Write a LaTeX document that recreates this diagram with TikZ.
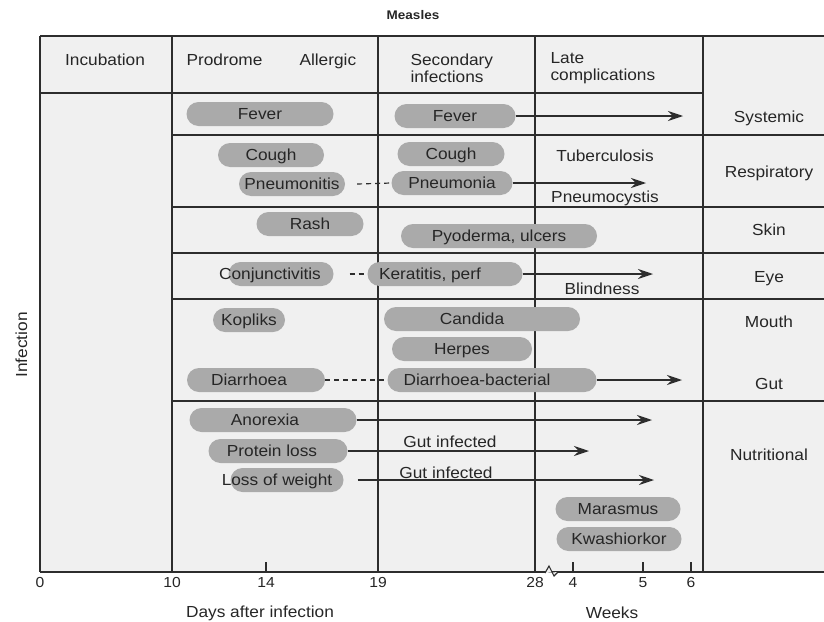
\documentclass[tikz,border=0pt]{standalone}
\usepackage{fontspec}
\setmainfont{Liberation Sans}[FakeStretch=1.08]
\usetikzlibrary{arrows.meta}
\definecolor{bggray}{RGB}{240,240,240}
\definecolor{pillgray}{RGB}{170,170,170}
\definecolor{linegray}{RGB}{45,45,45}

\begin{document}
\begin{tikzpicture}[x=1pt, y=-1pt, font=\fontsize{16}{18}\selectfont, text=black!85]
\tikzstyle{lbl}=[text height=11.2pt, text depth=1pt];
\tikzstyle{pill}=[lbl, fill=pillgray, rounded corners=12pt, minimum height=24pt, inner sep=0pt];
\tikzstyle{grid}=[draw=linegray, line width=1.4pt];
\tikzstyle{arr}=[draw=linegray, line width=1.3pt, -{Stealth[length=15pt,width=10pt,inset=5pt]}];
\tikzstyle{dsh}=[draw=linegray, line width=1.2pt, dash pattern=on 5pt off 4pt];
\useasboundingbox (0,0) rectangle (824,621);
\fill[bggray] (40,36) rectangle (824,572);
% table
\draw[grid] (40,36) -- (824,36) (40,93) -- (703,93) (40,572) -- (824,572);
\foreach \x in {40,172,378,535,703}
{
\draw[grid] (\x,36) -- (\x,572);
}
\foreach \y in {135,207,253,299,401}
{
\draw[grid] (172,\y) -- (824,\y);
}
\foreach \x in {266,573,643,691}
{
\draw[grid, line width=1.1pt] (\x,562) -- (\x,572);
}
\draw[grid, line width=1.1pt, fill=bggray] (545,573) -- (549,566) -- (554,576) -- (558,572);
% headings
\node[font=\bfseries\fontsize{12.5}{14}\selectfont] (title) at (413,15) {Measles};
\node[lbl] (incub) at (105,60) {Incubation};
\node[lbl, anchor=west] (prodr) at (183,60) {Prodrome};
\node[lbl, anchor=west] (allerg) at (296,60) {Allergic};
\node[anchor=west, align=left, font=\fontsize{16}{17}\selectfont] (second) at (407,68) {Secondary\\infections};
\node[anchor=west, align=left, font=\fontsize{16}{17}\selectfont] (late) at (547,68) {Late\\complications};
\node[lbl, rotate=90] (infect) at (22,345) {Infection};
\node[lbl] (systemic) at (769,117) {Systemic};
\node[lbl] (resp) at (769,172) {Respiratory};
\node[lbl] (skin) at (769,230) {Skin};
\node[lbl] (eye) at (769,277) {Eye};
\node[lbl] (mouth) at (769,322) {Mouth};
\node[lbl] (gut) at (769,384) {Gut};
\node[lbl] (nutr) at (769,455) {Nutritional};
% axis
\foreach \x/\t in {40/0,172/10,266/14,378/19,535/28,573/4,643/5,691/6}
{
\node[lbl, font=\fontsize{14.5}{16}\selectfont] at (\x,582) {\t};
}
\node[lbl] (days) at (260,612) {Days after infection};
\node[lbl] (weeks) at (612,613) {Weeks};
% bars
\node[pill, minimum width=147pt] (fev1) at (260,114) {Fever};
\node[pill, minimum width=121pt] (fev2) at (455,116) {Fever};
\node[pill, minimum width=106pt] (cgh1) at (271,155) {Cough};
\node[pill, minimum width=107pt] (cgh2) at (451,154) {Cough};
\node[pill, minimum width=106pt] (pnit) at (292,184) {Pneumonitis};
\node[pill, minimum width=121pt] (pnia) at (452,183) {Pneumonia};
\node[pill, minimum width=107pt] (rash) at (310,224) {Rash};
\node[pill, minimum width=196pt] (pyod) at (499,236) {Pyoderma, ulcers};
\node[pill, minimum width=105pt, label={[lbl, xshift=-11pt]center:Conjunctivitis}] (conj) at (281,274) {};
\node[pill, minimum width=155pt, label={[lbl, xshift=-15pt]center:Keratitis, perf}] (kera) at (445,274) {};
\node[pill, minimum width=72pt] (kopl) at (249,320) {Kopliks};
\node[pill, minimum width=196pt, label={[lbl, xshift=-10pt]center:Candida}] (cand) at (482,319) {};
\node[pill, minimum width=140pt] (herp) at (462,349) {Herpes};
\node[pill, minimum width=138pt, label={[lbl, xshift=-7pt]center:Diarrhoea}] (diar) at (256,380) {};
\node[pill, minimum width=209pt, label={[lbl, xshift=-15pt]center:Diarrhoea-bacterial}] (diab) at (492,380) {};
\node[pill, minimum width=167pt, label={[lbl, xshift=-8pt]center:Anorexia}] (anor) at (273,420) {};
\node[pill, minimum width=139pt, label={[lbl, xshift=-6pt]center:Protein loss}] (prot) at (278,451) {};
\node[pill, minimum width=113pt, label={[lbl, xshift=-10pt]center:Loss of weight}] (lwgt) at (287,480) {};
\node[pill, minimum width=125pt] (mara) at (618,509) {Marasmus};
\node[pill, minimum width=125pt] (kwas) at (619,539) {Kwashiorkor};
% late texts
\node[lbl] (tbc) at (605,156) {Tuberculosis};
\node[lbl] (pcys) at (605,197) {Pneumocystis};
\node[lbl] (blind) at (602,289) {Blindness};
\node[lbl] (gut1) at (450,442) {Gut infected};
\node[lbl] (gut2) at (446,473) {Gut infected};
% connectors
\coordinate (e1) at (683,116);
\coordinate (e2) at (646,183);
\coordinate (e3) at (653,274);
\coordinate (e4) at (682,380);
\coordinate (e5) at (652,420);
\coordinate (e6) at (589,451);
\coordinate (e7) at (654,480);
\draw[arr] (fev2.east) -- (e1);
\draw[arr] (pnia.east) -- (e2);
\draw[arr] (kera.east) -- (e3);
\draw[arr] (diab.east) -- (e4);
\draw[arr] (anor.east) -- (e5);
\draw[arr] (prot.east) -- (e6);
\draw[arr] ([xshift=14pt]lwgt.east) -- (e7);
\draw[dsh] ([xshift=12pt]pnit.east) -- (pnia.west);
\draw[dsh] ([xshift=16pt]conj.east) -- (kera.west);
\draw[dsh] (diar.east) -- (diab.west);
\end{tikzpicture}
\end{document}
